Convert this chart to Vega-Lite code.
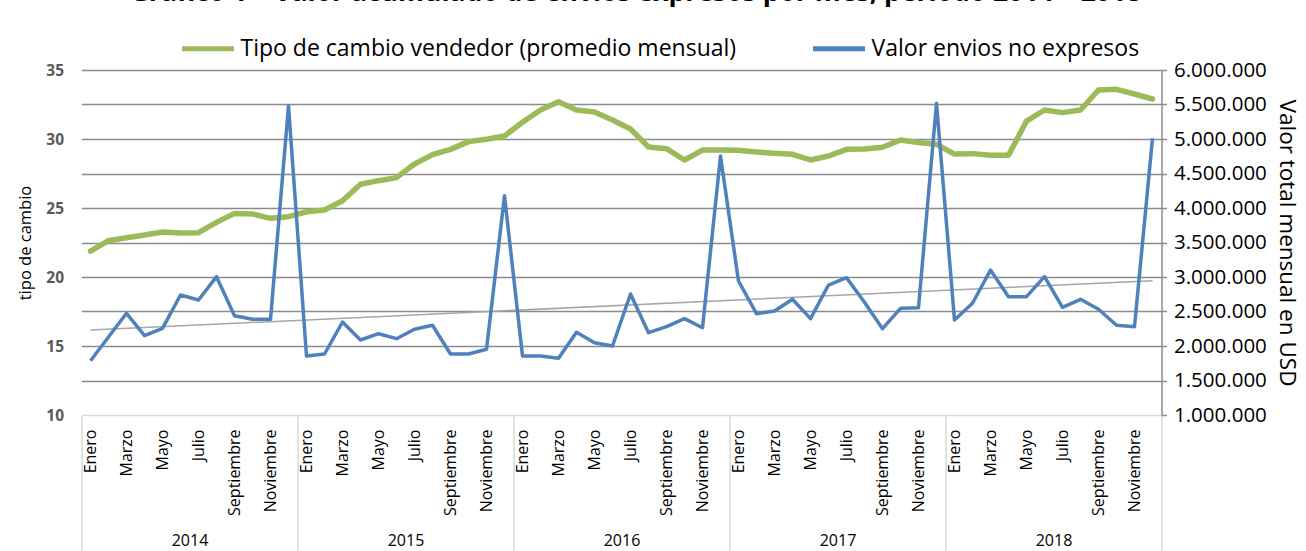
{
  "$schema": "https://vega.github.io/schema/vega-lite/v6.json",
  "autosize": "none",
  "width": 1080,
  "height": 345,
  "padding": {"left": 81.5, "top": 70, "right": 144.5, "bottom": 136},
  "background": "white",
  "config": {
    "font": "Open Sans",
    "view": {"stroke": null},
    "locale": {"number": {"decimal": ",", "thousands": ".", "grouping": [3], "currency": ["$", ""]}}
  },
  "title": {
    "text": "Gráfico 1 – Valor acumulado de envíos expresos por mes, período 2014 – 2018",
    "font": "Open Sans",
    "fontSize": 26.5,
    "fontWeight": "bold",
    "color": "black",
    "anchor": "middle",
    "frame": "group",
    "baseline": "alphabetic",
    "offset": -7,
    "dx": 14
  },
  "datasets": {
    "m": [
      {"i": 0, "anio": 2014, "mes": "Enero", "tc": 21.88, "valor": 1787000},
      {"i": 1, "anio": 2014, "mes": "Febrero", "tc": 22.63, "valor": 2130000},
      {"i": 2, "anio": 2014, "mes": "Marzo", "tc": 22.85, "valor": 2474000},
      {"i": 3, "anio": 2014, "mes": "Abril", "tc": 23.04, "valor": 2149000},
      {"i": 4, "anio": 2014, "mes": "Mayo", "tc": 23.26, "valor": 2256000},
      {"i": 5, "anio": 2014, "mes": "Junio", "tc": 23.19, "valor": 2739000},
      {"i": 6, "anio": 2014, "mes": "Julio", "tc": 23.21, "valor": 2667000},
      {"i": 7, "anio": 2014, "mes": "Agosto", "tc": 23.96, "valor": 3005000},
      {"i": 8, "anio": 2014, "mes": "Septiembre", "tc": 24.61, "valor": 2439000},
      {"i": 9, "anio": 2014, "mes": "Octubre", "tc": 24.57, "valor": 2387000},
      {"i": 10, "anio": 2014, "mes": "Noviembre", "tc": 24.25, "valor": 2387000},
      {"i": 11, "anio": 2014, "mes": "Diciembre", "tc": 24.37, "valor": 5478000},
      {"i": 12, "anio": 2015, "mes": "Enero", "tc": 24.73, "valor": 1855000},
      {"i": 13, "anio": 2015, "mes": "Febrero", "tc": 24.86, "valor": 1884000},
      {"i": 14, "anio": 2015, "mes": "Marzo", "tc": 25.53, "valor": 2348000},
      {"i": 15, "anio": 2015, "mes": "Abril", "tc": 26.72, "valor": 2087000},
      {"i": 16, "anio": 2015, "mes": "Mayo", "tc": 26.98, "valor": 2178000},
      {"i": 17, "anio": 2015, "mes": "Junio", "tc": 27.20, "valor": 2106000},
      {"i": 18, "anio": 2015, "mes": "Julio", "tc": 28.19, "valor": 2242000},
      {"i": 19, "anio": 2015, "mes": "Agosto", "tc": 28.87, "valor": 2300000},
      {"i": 20, "anio": 2015, "mes": "Septiembre", "tc": 29.25, "valor": 1884000},
      {"i": 21, "anio": 2015, "mes": "Octubre", "tc": 29.81, "valor": 1884000},
      {"i": 22, "anio": 2015, "mes": "Noviembre", "tc": 29.98, "valor": 1952000},
      {"i": 23, "anio": 2015, "mes": "Diciembre", "tc": 30.22, "valor": 4178000},
      {"i": 24, "anio": 2016, "mes": "Enero", "tc": 31.21, "valor": 1855000},
      {"i": 25, "anio": 2016, "mes": "Febrero", "tc": 32.10, "valor": 1855000},
      {"i": 26, "anio": 2016, "mes": "Marzo", "tc": 32.70, "valor": 1821000},
      {"i": 27, "anio": 2016, "mes": "Abril", "tc": 32.10, "valor": 2198000},
      {"i": 28, "anio": 2016, "mes": "Mayo", "tc": 31.96, "valor": 2048000},
      {"i": 29, "anio": 2016, "mes": "Junio", "tc": 31.38, "valor": 2000000},
      {"i": 30, "anio": 2016, "mes": "Julio", "tc": 30.72, "valor": 2754000},
      {"i": 31, "anio": 2016, "mes": "Agosto", "tc": 29.42, "valor": 2193000},
      {"i": 32, "anio": 2016, "mes": "Septiembre", "tc": 29.30, "valor": 2280000},
      {"i": 33, "anio": 2016, "mes": "Octubre", "tc": 28.48, "valor": 2396000},
      {"i": 34, "anio": 2016, "mes": "Noviembre", "tc": 29.20, "valor": 2265000},
      {"i": 35, "anio": 2016, "mes": "Diciembre", "tc": 29.20, "valor": 4754000},
      {"i": 36, "anio": 2017, "mes": "Enero", "tc": 29.18, "valor": 2942000},
      {"i": 37, "anio": 2017, "mes": "Febrero", "tc": 29.06, "valor": 2468000},
      {"i": 38, "anio": 2017, "mes": "Marzo", "tc": 28.96, "valor": 2507000},
      {"i": 39, "anio": 2017, "mes": "Abril", "tc": 28.89, "valor": 2677000},
      {"i": 40, "anio": 2017, "mes": "Mayo", "tc": 28.48, "valor": 2396000},
      {"i": 41, "anio": 2017, "mes": "Junio", "tc": 28.77, "valor": 2884000},
      {"i": 42, "anio": 2017, "mes": "Julio", "tc": 29.25, "valor": 2990000},
      {"i": 43, "anio": 2017, "mes": "Agosto", "tc": 29.28, "valor": 2633000},
      {"i": 44, "anio": 2017, "mes": "Septiembre", "tc": 29.40, "valor": 2251000},
      {"i": 45, "anio": 2017, "mes": "Octubre", "tc": 29.93, "valor": 2546000},
      {"i": 46, "anio": 2017, "mes": "Noviembre", "tc": 29.74, "valor": 2555000},
      {"i": 47, "anio": 2017, "mes": "Diciembre", "tc": 29.62, "valor": 5517000},
      {"i": 48, "anio": 2018, "mes": "Enero", "tc": 28.91, "valor": 2377000},
      {"i": 49, "anio": 2018, "mes": "Febrero", "tc": 28.94, "valor": 2619000},
      {"i": 50, "anio": 2018, "mes": "Marzo", "tc": 28.82, "valor": 3101000},
      {"i": 51, "anio": 2018, "mes": "Abril", "tc": 28.82, "valor": 2715000},
      {"i": 52, "anio": 2018, "mes": "Mayo", "tc": 31.30, "valor": 2715000},
      {"i": 53, "anio": 2018, "mes": "Junio", "tc": 32.10, "valor": 3005000},
      {"i": 54, "anio": 2018, "mes": "Julio", "tc": 31.91, "valor": 2561000},
      {"i": 55, "anio": 2018, "mes": "Agosto", "tc": 32.10, "valor": 2677000},
      {"i": 56, "anio": 2018, "mes": "Septiembre", "tc": 33.55, "valor": 2532000},
      {"i": 57, "anio": 2018, "mes": "Octubre", "tc": 33.60, "valor": 2300000},
      {"i": 58, "anio": 2018, "mes": "Noviembre", "tc": 33.26, "valor": 2280000},
      {"i": 59, "anio": 2018, "mes": "Diciembre", "tc": 32.90, "valor": 5010000}
    ],
    "tend": [
      {"i": 0, "tend": 2232000},
      {"i": 59, "tend": 2946000}
    ]
  },
  "layer": [
    {
      "data": {"name": "tend"},
      "mark": {"type": "line", "color": "#a6a6a6", "strokeWidth": 1.5},
      "encoding": {
        "x": {
          "field": "i", "type": "quantitative",
          "scale": {"domain": [-0.5, 59.5], "nice": false, "zero": false},
          "axis": {
            "orient": "bottom",
            "values": [5.5, 17.5, 29.5, 41.5, 53.5],
            "labelExpr": "'' + (2014 + floor(datum.value / 12))",
            "ticks": false, "domain": false, "grid": false, "title": null,
            "labelFont": "Open Sans", "labelFontSize": 16, "labelColor": "black",
            "labelPadding": 117, "labelFlush": false, "labelOverlap": false, "labelBound": false
          }
        },
        "y": {
          "field": "tend", "type": "quantitative",
          "scale": {"domain": [1000000, 6000000], "nice": false, "zero": false},
          "axis": null
        }
      }
    },
    {
      "data": {"name": "m"},
      "mark": {"type": "line", "strokeWidth": 5.5, "strokeJoin": "round", "strokeCap": "round"},
      "encoding": {
        "x": {
          "field": "i", "type": "quantitative",
          "scale": {"domain": [-0.5, 59.5], "nice": false, "zero": false},
          "axis": {
            "orient": "bottom",
            "values": [0, 2, 4, 6, 8, 10, 12, 14, 16, 18, 20, 22, 24, 26, 28, 30, 32, 34, 36, 38, 40, 42, 44, 46, 48, 50, 52, 54, 56, 58],
            "labelExpr": "['Enero','Febrero','Marzo','Abril','Mayo','Junio','Julio','Agosto','Septiembre','Octubre','Noviembre','Diciembre'][datum.value % 12]",
            "labelAngle": -90, "labelAlign": "right", "labelBaseline": "middle",
            "labelFont": "Open Sans", "labelFontSize": 16, "labelColor": "black",
            "labelPadding": 14, "ticks": false, "grid": false, "title": null,
            "domain": true, "domainColor": "#d9d9d9", "domainWidth": 1.5,
            "labelFlush": false, "labelOverlap": false, "labelBound": false
          }
        },
        "y": {
          "field": "tc", "type": "quantitative",
          "scale": {"domain": [10, 35], "nice": false, "zero": false},
          "axis": {
            "values": [10, 15, 20, 25, 30, 35],
            "orient": "left", "grid": false, "domain": false, "ticks": false,
            "labelFont": "Open Sans", "labelFontSize": 15.5, "labelFontWeight": "bold", "labelColor": "#595959",
            "labelPadding": 18,
            "title": "tipo de cambio", "titleFont": "Open Sans", "titleFontSize": 16.5, "titleFontWeight": "normal",
            "titleColor": "black", "titlePadding": 12
          }
        },
        "color": {
          "datum": "Tipo de cambio vendedor (promedio mensual)",
          "type": "nominal",
          "scale": {
            "domain": ["Tipo de cambio vendedor (promedio mensual)", "Valor envios no expresos"],
            "range": ["#9bbb59", "#4f81bd"]
          },
          "legend": {
            "orient": "none", "direction": "horizontal",
            "legendX": 98, "legendY": -50,
            "title": null,
            "symbolType": "stroke", "symbolSize": 2704, "symbolStrokeWidth": 5,
            "symbolFillColor": "transparent",
            "labelFont": "Open Sans", "labelFontSize": 23, "labelColor": "black",
            "labelOffset": 4, "columnPadding": 66, "labelLimit": 700
          }
        }
      }
    },
    {
      "data": {"name": "m"},
      "mark": {"type": "line", "strokeWidth": 3.5, "strokeJoin": "round"},
      "encoding": {
        "x": {
          "field": "i", "type": "quantitative",
          "scale": {"domain": [-0.5, 59.5], "nice": false, "zero": false},
          "axis": {
            "orient": "bottom",
            "values": [-0.5, 11.5, 23.5, 35.5, 47.5, 59.5],
            "labels": false, "ticks": true, "tickSize": 136, "tickColor": "#d9d9d9", "tickWidth": 1.5,
            "domain": false, "grid": false, "title": null
          }
        },
        "y": {
          "field": "valor", "type": "quantitative",
          "scale": {"domain": [1000000, 6000000], "nice": false, "zero": false},
          "axis": {
            "orient": "right",
            "values": [1000000, 1500000, 2000000, 2500000, 3000000, 3500000, 4000000, 4500000, 5000000, 5500000, 6000000],
            "format": ",.0f",
            "grid": true, "gridColor": "#8c8c8c", "gridWidth": 1.5,
            "gridOpacity": {"condition": {"test": "datum.value <= 1000000", "value": 0}, "value": 1},
            "domain": true, "domainColor": "#8c8c8c", "domainWidth": 1.5,
            "ticks": true, "tickSize": 5, "tickColor": "#8c8c8c", "tickWidth": 1.5,
            "labelFont": "Open Sans", "labelFontSize": 20.5, "labelColor": "black", "labelPadding": 7,
            "title": "Valor total mensual en USD", "titleFont": "Open Sans", "titleFontSize": 22.5,
            "titleFontWeight": "normal", "titleColor": "black", "titlePadding": 8
          }
        },
        "color": {"datum": "Valor envios no expresos", "type": "nominal"}
      }
    }
  ],
  "resolve": {"scale": {"y": "independent"}, "axis": {"x": "independent", "y": "independent"}}
}
